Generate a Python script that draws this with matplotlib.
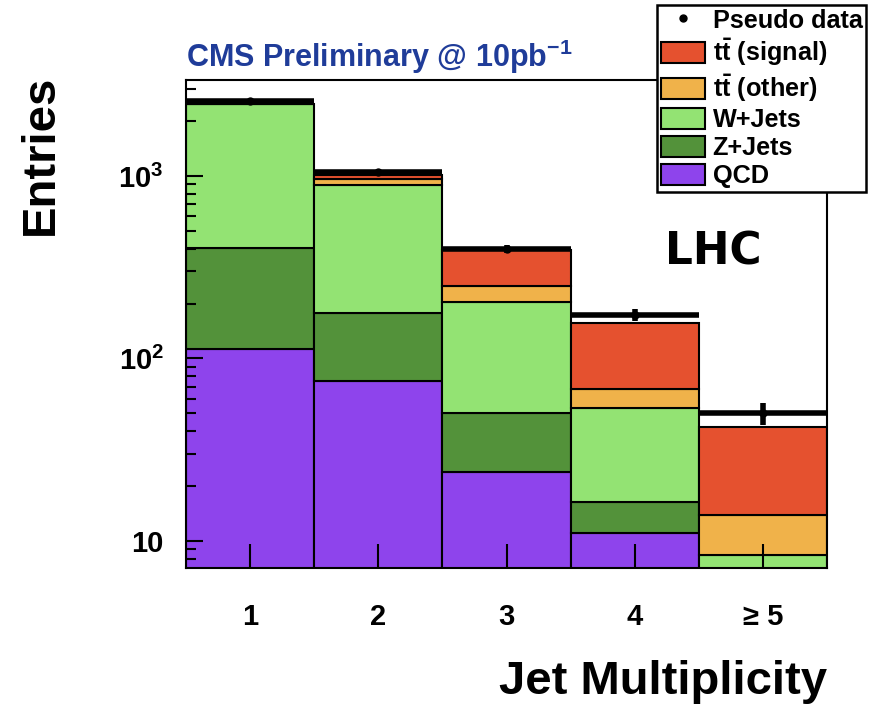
import numpy as np
import matplotlib
matplotlib.use("Agg")
import matplotlib.pyplot as plt
from matplotlib.patches import Patch
from matplotlib.lines import Line2D

plt.rcParams['font.family'] = ['Liberation Sans', 'DejaVu Sans']
plt.rcParams['font.weight'] = 'bold'
plt.rcParams['axes.labelweight'] = 'bold'
plt.rcParams['mathtext.fontset'] = 'custom'
plt.rcParams['mathtext.rm'] = 'Liberation Sans:bold'
plt.rcParams['mathtext.bf'] = 'Liberation Sans:bold'
plt.rcParams['mathtext.it'] = 'Liberation Sans:bold'

# jet multiplicity bins
bins = [1, 2, 3, 4, 5]
bin_labels = ['1', '2', '3', '4', '\u2265 5']

# expected contributions per bin (stacked bottom to top)
qcd = [113, 75, 24, 11, 3.0]
zjets = [290, 102, 26, 5.3, 3.5]
wjets = [2077, 716, 154, 37, 1.9]
tt_other = [5, 70, 46, 15, 5.5]
tt_signal = [3, 49, 144, 88, 28]

# pseudo data counts
data = [2580, 1050, 398, 173, 50]

samples = [
    ('QCD', qcd, '#8e44ec'),
    ('Z+Jets', zjets, '#53923a'),
    ('W+Jets', wjets, '#93e373'),
    (r'$\mathbf{t\bar{t}}$ (other)', tt_other, '#f0b24a'),
    (r'$\mathbf{t\bar{t}}$ (signal)', tt_signal, '#e5512f'),
]

fig = plt.figure(figsize=(8.75, 7.07), dpi=100)
ax = fig.add_axes([186 / 875, 1 - 568 / 707, 641 / 875, 488 / 707])

x = np.array(bins)
bottom = np.zeros(len(bins))
for name, vals, col in samples:
    ax.bar(x, vals, width=1.0, bottom=bottom, color=col, edgecolor='black',
           linewidth=1.5, zorder=1)
    bottom = bottom + np.array(vals)

d = np.array(data, dtype=float)
ax.errorbar(x, d, xerr=0.5, yerr=np.sqrt(d), fmt='o', color='black', ms=5,
            elinewidth=4, capsize=0, zorder=3)

ax.set_yscale('log')
ax.set_xlim(0.5, 5.5)
ax.set_ylim(7.1, 3360)
ax.set_yticks([10, 100, 1000])
ax.set_yticklabels(['10', r'$\mathbf{10^2}$', r'$\mathbf{10^3}$'])
ax.set_xticks(bins)
ax.set_xticklabels(bin_labels)
ax.tick_params(axis='both', which='both', direction='in', labelsize=21,
               width=1.5, top=False, right=False)
ax.tick_params(axis='x', which='major', length=17, pad=25)
ax.tick_params(axis='x', which='minor', bottom=False)
ax.tick_params(axis='y', which='major', length=12, pad=16)
ax.tick_params(axis='y', which='minor', length=7)
for s in ax.spines.values():
    s.set_linewidth(1.5)

ax.set_ylabel('Entries', fontsize=34, loc='top', labelpad=40)
ax.yaxis.label.set_y(1.01)
ax.set_xlabel('Jet Multiplicity', fontsize=34, loc='right', labelpad=21)

ax.text(0.0, 1.027, r'CMS Preliminary @ 10pb$^{\mathbf{-1}}$', transform=ax.transAxes,
        color='#1f3c99', fontsize=22, va='baseline', ha='left')
ax.text(0.747, 0.621, 'LHC', transform=ax.transAxes, fontsize=31.5,
        family='DejaVu Sans', fontweight='bold', va='baseline', ha='left')

handles = [Line2D([], [], marker='o', color='black', ls='none', ms=5)]
labels = ['Pseudo data']
for name, vals, col in samples[::-1]:
    handles.append(Patch(facecolor=col, edgecolor='black', linewidth=1.5))
    labels.append(name)

leg = fig.legend(handles, labels, loc='upper left',
                 bbox_to_anchor=(657 / 875, 1 - 5 / 707), fontsize=18.2,
                 frameon=True, fancybox=False, edgecolor='black',
                 framealpha=1.0, borderaxespad=0, borderpad=0.15,
                 handlelength=1.75, handleheight=0.9, handletextpad=0.3,
                 labelspacing=0.15)
leg.get_frame().set_linewidth(1.8)
leg.set_zorder(10)

fig.savefig('out.png', dpi=100)
